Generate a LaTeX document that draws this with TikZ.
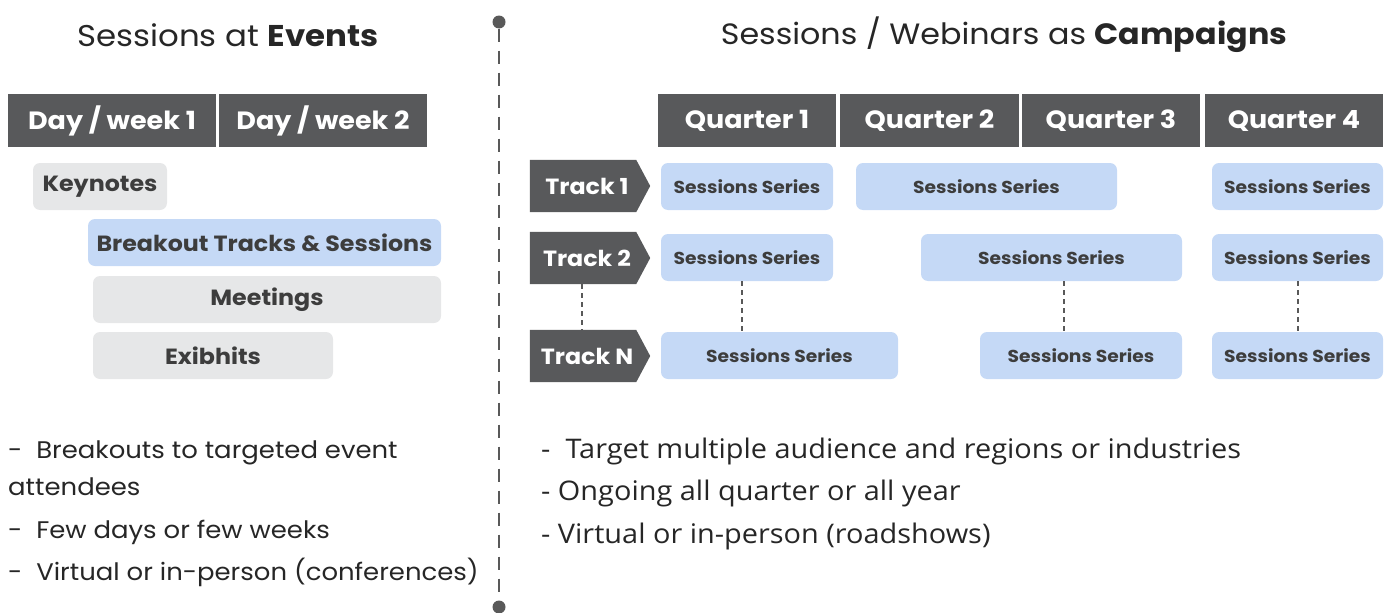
\documentclass[tikz,border=0pt]{standalone}
\usepackage{fontspec}
\setmainfont{Poppins}[FakeStretch=1.08]
\newfontfamily\rfont{Open Sans}[FakeStretch=1.07]
\definecolor{hdr}{HTML}{58595B}
\definecolor{lgray}{HTML}{E6E7E8}
\definecolor{lblue}{HTML}{C5D9F6}
\definecolor{txt}{HTML}{3D3D3D}
\definecolor{ttl}{HTML}{262626}
\definecolor{divc}{HTML}{595959}
\tikzset{
  hdrbox/.style={fill=hdr, text=white, inner sep=0pt, font=\fontsize{25}{30}\selectfont\bfseries},
  graybox/.style={fill=lgray, rounded corners=7pt, inner sep=0pt, text=txt, minimum height=47pt, font=\fontsize{22}{26}\selectfont\bfseries},
  bluebox/.style={fill=lblue, rounded corners=7pt, inner sep=0pt, text=txt, minimum height=47pt, font=\fontsize{22}{26}\selectfont\bfseries},
  ssbox/.style={fill=lblue, rounded corners=7pt, inner sep=0pt, text=txt, minimum height=47pt, font=\fontsize{17.3}{21}\selectfont\bfseries},
  trackbox/.style={inner sep=0pt, minimum width=120pt, minimum height=52pt},
  tracktext/.style={text=white, font=\fontsize{22}{26}\selectfont\bfseries, inner sep=0pt},
  vdash/.style={draw=divc, line width=1.6pt, dash pattern=on 5pt off 4pt},
  bullet/.style={anchor=base west, inner sep=0pt, text=ttl, font=\fontsize{24}{29}\selectfont},
  rbullet/.style={anchor=base west, inner sep=0pt, text=ttl, font=\rfont\fontsize{27}{32}\selectfont},
}
\begin{document}
\begin{tikzpicture}[x=1pt,y=-1pt]
\useasboundingbox (0,0) rectangle (1390,613);
% titles
\node[text=ttl, font=\fontsize{30}{36}\selectfont] (tl) at (228,35) {Sessions at \textbf{Events}};
\node[text=ttl, font=\fontsize{29.4}{35}\selectfont] (tr) at (1004,35) {Sessions / Webinars as \textbf{Campaigns}};
% divider
\node[circle, fill=divc, inner sep=0pt, minimum size=13pt] (dtop) at (499,22) {};
\node[circle, fill=divc, inner sep=0pt, minimum size=13pt] (dbot) at (499,607) {};
\draw[draw=divc, line width=2.5pt, dash pattern=on 13pt off 9pt] (dtop) -- (dbot);
% left headers
\node[hdrbox, minimum width=208pt, minimum height=53pt] (d1) at (112,120.5) {Day / week 1};
\node[hdrbox, minimum width=208pt, minimum height=53pt] (d2) at (323,120.5) {Day / week 2};
\node[graybox, minimum width=134pt] (key) at (100,186.5) {Keynotes};
\node[bluebox, minimum width=353pt] (brk) at (264.5,242.5) {Breakout Tracks \& Sessions};
\node[graybox, minimum width=348pt] (meet) at (267,299.5) {Meetings};
\node[graybox, minimum width=240pt] (exh) at (213,355.5) {Exibhits};
% right headers
\node[hdrbox, minimum width=178pt, minimum height=53pt] (q1) at (747,120.5) {Quarter 1};
\node[hdrbox, minimum width=179pt, minimum height=53pt] (q2) at (929.5,120.5) {Quarter 2};
\node[hdrbox, minimum width=178pt, minimum height=53pt] (q3) at (1111,120.5) {Quarter 3};
\node[hdrbox, minimum width=178pt, minimum height=53pt] (q4) at (1294,120.5) {Quarter 4};
% tracks
\foreach \n/\y/\t in {t1/186/Track 1, t2/258/Track 2, tn/356/Track N}{
  \node[trackbox] (\n) at (590,\y) {};
  \fill[hdr] (\n.north west) -- ([xshift=-14pt]\n.north east) -- (\n.east) -- ([xshift=-14pt]\n.south east) -- (\n.south west) -- cycle;
  \node[tracktext] at ([xshift=-3pt]\n.center) {\t};
}
% sessions series
\node[ssbox, minimum width=172pt] (a1) at (747,186.5) {Sessions Series};
\node[ssbox, minimum width=261pt] (a2) at (986.5,186.5) {Sessions Series};
\node[ssbox, minimum width=171pt] (a3) at (1297.5,186.5) {Sessions Series};
\node[ssbox, minimum width=172pt] (b1) at (747,257.5) {Sessions Series};
\node[ssbox, minimum width=261pt] (b2) at (1051.5,257.5) {Sessions Series};
\node[ssbox, minimum width=171pt] (b3) at (1297.5,257.5) {Sessions Series};
\node[ssbox, minimum width=237pt] (c1) at (779.5,355.5) {Sessions Series};
\node[ssbox, minimum width=202pt] (c2) at (1081,355.5) {Sessions Series};
\node[ssbox, minimum width=171pt] (c3) at (1297.5,355.5) {Sessions Series};
% dashed connectors
\draw[vdash] (t2.south -| 582,0) -- (tn.north -| 582,0);
\draw[vdash] (b1.south -| 742,0) -- (c1.north -| 742,0);
\draw[vdash] (b2.south -| 1064,0) -- (c2.north -| 1064,0);
\draw[vdash] (b3.south -| 1298,0) -- (c3.north -| 1298,0);
% bullets left
\node[bullet] (l1) at (8,458) {-\ \ Breakouts to targeted event};
\node[bullet] (l2) at (8,495) {attendees};
\node[bullet] (l3) at (8,538) {-\ \ Few days or few weeks};
\node[bullet] (l4) at (8,580) {-\ \ Virtual or in-person (conferences)};
% bullets right
\node[rbullet] (r1) at (541,458) {-\ \ Target multiple audience and regions or industries};
\node[rbullet] (r2) at (541,500) {- Ongoing all quarter or all year};
\node[rbullet] (r3) at (541,543) {- Virtual or in-person (roadshows)};
\end{tikzpicture}
\end{document}
